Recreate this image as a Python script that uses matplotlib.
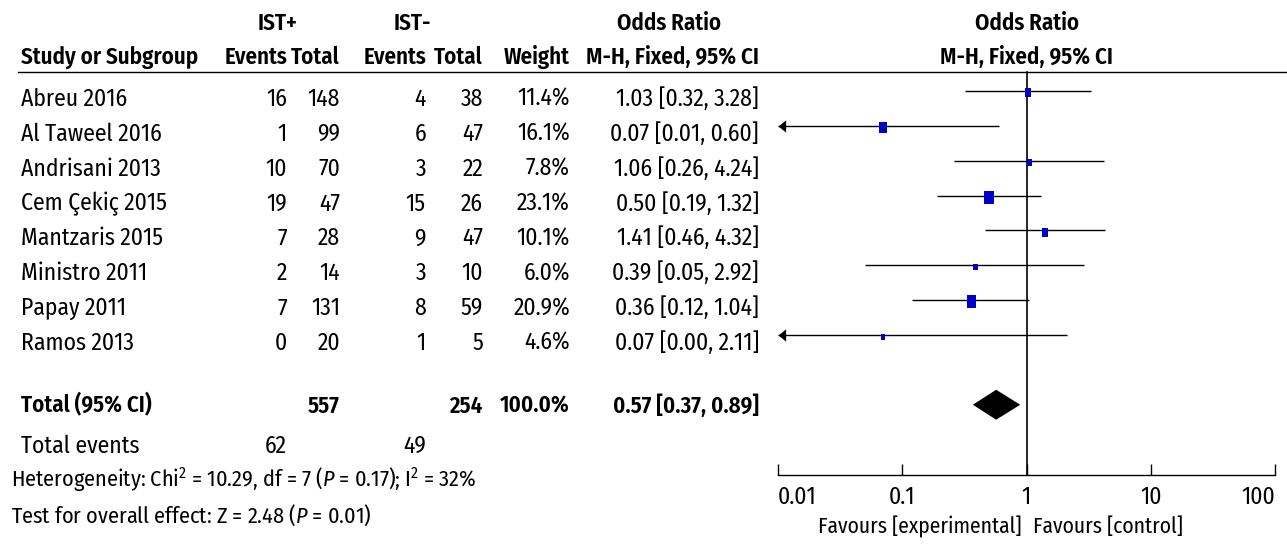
import numpy as np
import matplotlib
matplotlib.use('Agg')
import matplotlib.pyplot as plt
from matplotlib import font_manager

# ---------------- data ----------------
studies = ["Abreu 2016", "Al Taweel 2016", "Andrisani 2013", "Cem Çekiç 2015",
           "Mantzaris 2015", "Ministro 2011", "Papay 2011", "Ramos 2013"]
ev_pos = [16, 1, 10, 19, 7, 2, 7, 0]
tot_pos = [148, 99, 70, 47, 28, 14, 131, 20]
ev_neg = [4, 6, 3, 15, 9, 3, 8, 1]
tot_neg = [38, 47, 22, 26, 47, 10, 59, 5]
weights = [11.4, 16.1, 7.8, 23.1, 10.1, 6.0, 20.9, 4.6]
or_est = [1.03, 0.07, 1.06, 0.50, 1.41, 0.39, 0.36, 0.07]
ci_lo = [0.32, 0.01, 0.26, 0.19, 0.46, 0.05, 0.12, 0.00]
ci_hi = [3.28, 0.60, 4.24, 1.32, 4.32, 2.92, 1.04, 2.11]

total_label = "Total (95% CI)"
total_n_pos, total_n_neg = 557, 254
total_weight = 100.0
total_or, total_lo, total_hi = 0.57, 0.37, 0.89
total_ev_pos, total_ev_neg = 62, 49
heterogeneity = r"Heterogeneity: Chi$^2$ = 10.29, df = 7 ($P$ = 0.17); I$^2$ = 32%"
overall = r"Test for overall effect: Z = 2.48 ($P$ = 0.01)"
xtick_vals = [0.01, 0.1, 1, 10, 100]
xtick_labels = ["0.01", "0.1", "1", "10", "100"]
favours_left = "Favours [experimental]"
favours_right = "Favours [control]"

# ---------------- fonts ----------------
names = {f.name for f in font_manager.fontManager.ttflist}
FONT = 'DejaVu Sans'
SCALE = 0.75
for cand in ['Fira Sans Condensed', 'Liberation Sans Narrow', 'Archivo Narrow',
             'IBM Plex Sans Condensed', 'Encode Sans Condensed']:
    if cand in names:
        FONT = cand
        SCALE = 1.0
        break
plt.rcParams['font.family'] = [FONT, 'DejaVu Sans']
plt.rcParams['mathtext.fontset'] = 'custom'
plt.rcParams['mathtext.rm'] = FONT
plt.rcParams['mathtext.it'] = FONT + ':italic'
plt.rcParams['mathtext.bf'] = FONT + ':bold'

FS = 17 * SCALE
FS_BOLD = 16.5 * SCALE
FS_SMALL = 16 * SCALE
FS_AX = 15.5 * SCALE
FS_TICK = 17 * SCALE
BOLD = 600

W, H = 1287, 545
fig = plt.figure(figsize=(W / 100, H / 100), dpi=100)

# text / layout axes in pixel units
tab = fig.add_axes([0, 0, 1, 1])
tab.set_xlim(0, W)
tab.set_ylim(H, 0)
tab.axis('off')

LINE0, STEP = 91.0, 34.86
def rowpx(r):
    return LINE0 + STEP * r

# forest axes
X0, X1 = 778, 1275
fa = fig.add_axes([X0 / W, 0, (X1 - X0) / W, 1])
fa.set_facecolor('none')
fa.set_xscale('log')
fa.set_xlim(xtick_vals[0], xtick_vals[-1])
fa.set_ylim((H - LINE0) / STEP, -LINE0 / STEP)

rows = np.arange(len(studies))
total_row = len(studies) + 1
axis_row = (475 - LINE0) / STEP
hdr_row = (72 - LINE0) / STEP

# ---------------- table text ----------------
def t(x, y, s, ha='left', bold=False, size=None, **kw):
    if size is None:
        size = FS_BOLD if bold else FS
    tab.text(x, y, s, ha=ha, va='baseline', fontsize=size,
             fontweight=BOLD if bold else 'normal', **kw)

COL_NAME = 21
COL_EVP, COL_TOTP, COL_EVN, COL_TOTN, COL_W, COL_CI = 287, 340, 426, 483, 570, 759

# headers
t(278, 30, "IST+", ha='center', bold=True)
t(412, 30, "IST-", ha='center', bold=True)
t(669, 30, "Odds Ratio", ha='center', bold=True)
t(1027, 30, "Odds Ratio", ha='center', bold=True)
t(COL_NAME, 64, "Study or Subgroup", bold=True)
t(COL_EVP, 64, "Events", ha='right', bold=True)
t(COL_TOTP, 64, "Total", ha='right', bold=True)
t(COL_EVN, 64, "Events", ha='right', bold=True)
t(COL_TOTN, 64, "Total", ha='right', bold=True)
t(COL_W, 64, "Weight", ha='right', bold=True)
t(COL_CI, 64, "M-H, Fixed, 95% CI", ha='right', bold=True)
t(1027, 64, "M-H, Fixed, 95% CI", ha='center', bold=True)
tab.plot([18, W], [72, 72], color='black', lw=1.0)

for i, name in enumerate(studies):
    yb = rowpx(i) + 15
    t(COL_NAME, yb, name)
    t(COL_EVP, yb, str(ev_pos[i]), ha='right')
    t(COL_TOTP, yb, str(tot_pos[i]), ha='right')
    t(COL_EVN, yb, str(ev_neg[i]), ha='right')
    t(COL_TOTN, yb, str(tot_neg[i]), ha='right')
    t(COL_W, yb, f"{weights[i]:.1f}%", ha='right')
    t(COL_CI, yb, f"{or_est[i]:.2f} [{ci_lo[i]:.2f}, {ci_hi[i]:.2f}]", ha='right')

yb = rowpx(total_row) + 8
t(COL_NAME, yb, total_label, bold=True)
t(COL_TOTP, yb, str(total_n_pos), ha='right', bold=True)
t(COL_TOTN, yb, str(total_n_neg), ha='right', bold=True)
t(COL_W, yb, f"{total_weight:.1f}%", ha='right', bold=True)
t(COL_CI, yb, f"{total_or:.2f} [{total_lo:.2f}, {total_hi:.2f}]", ha='right', bold=True)

yb = 453
t(COL_NAME, yb, "Total events")
t(COL_EVP, yb, str(total_ev_pos), ha='right')
t(COL_EVN, yb, str(total_ev_neg), ha='right')

t(11, 487, heterogeneity, size=FS_SMALL)
t(11, 523, overall, size=FS_SMALL)

t(1022, 533, favours_left, ha='right', size=FS_AX)
t(1033, 533, favours_right, ha='left', size=FS_AX)

# ---------------- forest marks ----------------
xmin = xtick_vals[0]
arrow = [(0, 0), (1, 0.8), (1, -0.8), (0, 0)]
for i in rows:
    lo = max(ci_lo[i], xmin)
    fa.plot([lo, ci_hi[i]], [i, i], color='black', lw=1.0, solid_capstyle='butt', zorder=2)
    if ci_lo[i] <= xmin:
        fa.plot([xmin], [i], marker=arrow, ms=11, color='black', mew=0,
                clip_on=False, zorder=3)

rect = [(-0.35, -0.5), (0.35, -0.5), (0.35, 0.5), (-0.35, 0.5), (-0.35, -0.5)]
fa.scatter(or_est, rows + 0.05, s=[4.1 * w for w in weights], marker=rect,
           color='#0000c8', linewidths=0, zorder=4)

dh = 0.43
fa.fill([total_lo, total_or, total_hi, total_or],
        [total_row, total_row - dh, total_row, total_row + dh],
        color='black', lw=0, zorder=4)

fa.plot([1, 1], [hdr_row, axis_row], color='black', lw=1.2, zorder=1)

# axis
for side in ['top', 'right', 'left']:
    fa.spines[side].set_visible(False)
fa.spines['bottom'].set_position(('data', axis_row))
fa.spines['bottom'].set_linewidth(1.0)
fa.set_yticks([])
fa.set_xticks(xtick_vals)
fa.set_xticklabels(xtick_labels, fontsize=FS_TICK)
fa.minorticks_off()
fa.tick_params(axis='x', direction='in', length=8, width=1.0, pad=8)
lbls = fa.get_xticklabels()
lbls[0].set_ha('left')
lbls[-1].set_ha('right')

fig.savefig('out.png', dpi=100)
